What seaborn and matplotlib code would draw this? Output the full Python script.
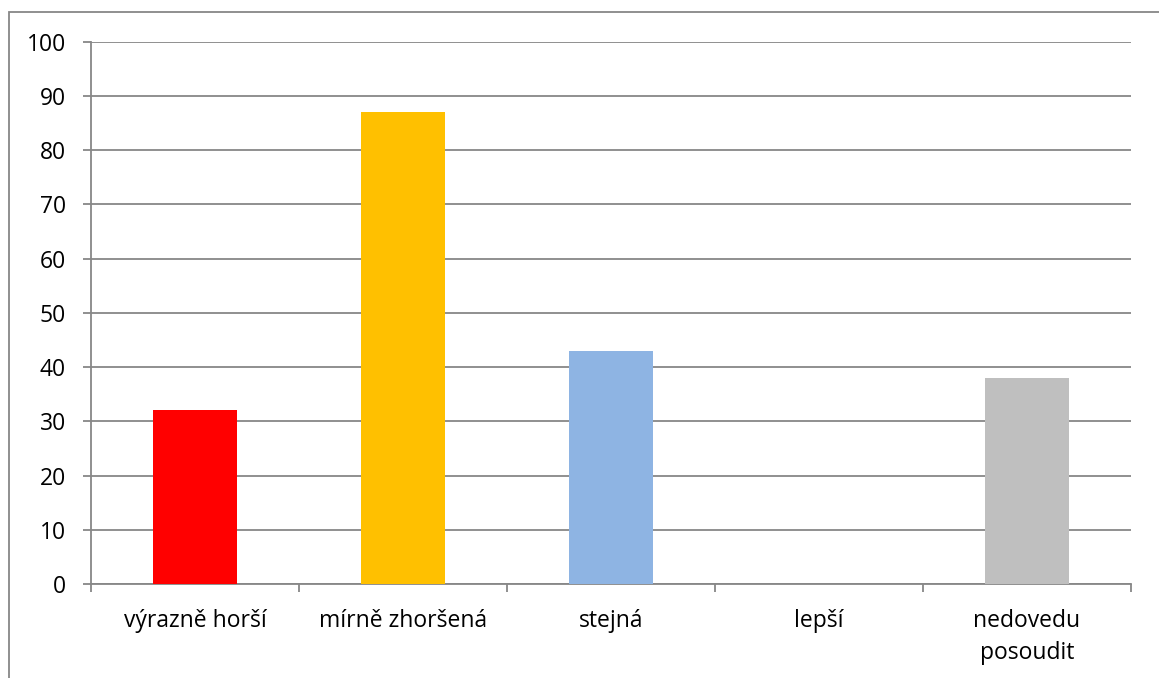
import matplotlib
matplotlib.use("Agg")
import matplotlib.pyplot as plt
from matplotlib.patches import Rectangle
from matplotlib.ticker import FixedLocator
import seaborn as sns
import pandas as pd

categories = ["výrazně horší", "mírně zhoršená", "stejná", "lepší", "nedovedu\nposoudit"]
values = [32, 87, 43, 0, 38]
bar_colors = ["#FF0000", "#FFC000", "#8EB4E3", "#9BBB59", "#BFBFBF"]
y_ticks = [0, 10, 20, 30, 40, 50, 60, 70, 80, 90, 100]

sns.set_theme(style="white")
plt.rcParams["font.family"] = ["Open Sans", "DejaVu Sans"]

W, H = 1159, 678
fig = plt.figure(figsize=(W / 100, H / 100), dpi=100)
ax = fig.add_axes([91 / W, 1 - 584 / H, (1131 - 91) / W, (584 - 41.7) / H])

df = pd.DataFrame({"kategorie": categories, "pocet": values})
sns.barplot(data=df, x="kategorie", y="pocet", hue="kategorie",
            palette=bar_colors, width=0.4, legend=False, ax=ax,
            saturation=1, linewidth=0, zorder=3)

axis_col = "#878787"
ax.set_ylim(0, 100)
ax.set_xlim(-0.5, len(categories) - 0.5)
ax.set_yticks(y_ticks)
ax.set_yticklabels([str(t) for t in y_ticks])
ax.yaxis.grid(True, color=axis_col, linewidth=1.3, zorder=0)
ax.xaxis.grid(False)
ax.set_axisbelow(True)
ax.set_xlabel("")
ax.set_ylabel("")

for side in ["top", "right"]:
    ax.spines[side].set_visible(False)
for side in ["left", "bottom"]:
    ax.spines[side].set_color(axis_col)
    ax.spines[side].set_linewidth(1.3)

ax.tick_params(axis="y", which="major", length=6, width=1.3, color=axis_col,
               pad=12, labelsize=16.5, labelcolor="black", left=True)
ax.tick_params(axis="x", which="major", length=0, pad=18,
               labelsize=16.5, labelcolor="black")
ax.xaxis.set_minor_locator(FixedLocator([i - 0.5 for i in range(len(categories) + 1)]))
ax.tick_params(axis="x", which="minor", length=6, width=1.3, color=axis_col,
               bottom=True, direction="out")
for lbl in ax.get_xticklabels():
    lbl.set_linespacing(1.42)

# outer chart frame
fig.patches.append(Rectangle((9 / W, -0.05), 1.2, 1 - 12 / H + 0.05,
                             transform=fig.transFigure, fill=False,
                             edgecolor=axis_col, linewidth=1.3))

fig.savefig("out.png", dpi=100, facecolor="white")
